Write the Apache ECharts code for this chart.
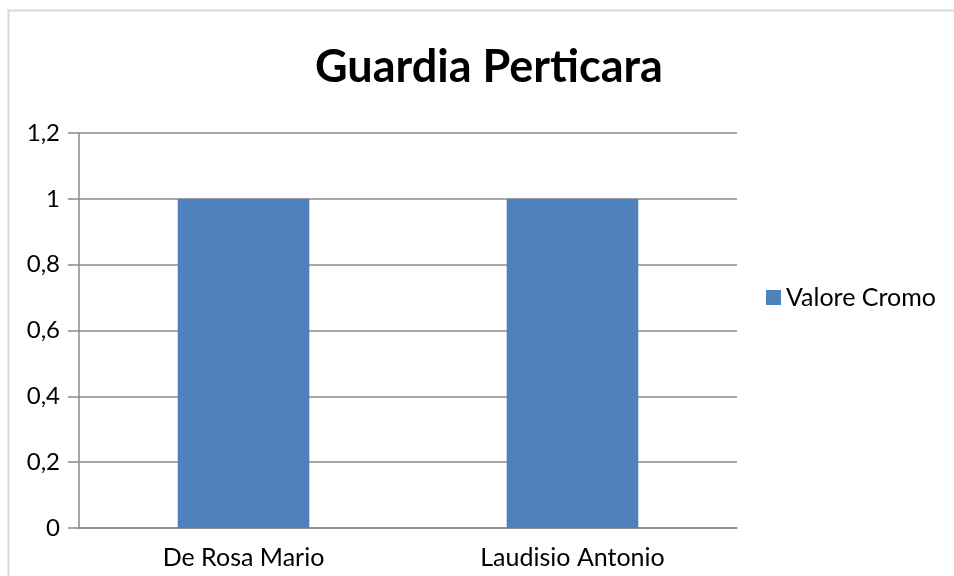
<!DOCTYPE html>
<html>
<head>
<meta charset="utf-8">
<script src="https://cdn.jsdelivr.net/npm/echarts@6/dist/echarts.min.js"></script>
<style>
  html, body { margin: 0; padding: 0; background: #fff; }
  #main { width: 954px; height: 576px; }
</style>
</head>
<body>
<div id="main"></div>
<script>
// dati del grafico
var categories = ['De Rosa Mario', 'Laudisio Antonio']
var seriesName = 'Valore Cromo'
var values = [1, 1]

var chart = echarts.init(document.getElementById('main'))
var lineColor = '#8a8a8a'
var font = 'Lato'

chart.setOption({
  animation: false,
  // cornice esterna del grafico
  graphic: [{
    type: 'rect',
    shape: { x: 8.5, y: 10.5, width: 960, height: 600 },
    style: { fill: 'none', stroke: '#d9d9d9', lineWidth: 2 },
    silent: true
  }],
  title: {
    text: 'Guardia Perticara',
    left: 484,
    textAlign: 'center',
    top: 40,
    textStyle: { fontFamily: font, fontWeight: 'bold', fontSize: 45, color: '#000' }
  },
  legend: {
    data: [seriesName],
    left: 761,
    top: 280,
    itemWidth: 15,
    itemHeight: 15,
    itemGap: 8,
    icon: 'rect',
    textStyle: { fontFamily: font, fontSize: 25, color: '#000' }
  },
  grid: { left: 79, right: 217, top: 133, bottom: 48 },
  xAxis: {
    type: 'category',
    data: categories,
    axisLine: { lineStyle: { color: lineColor, width: 1.5 } },
    axisTick: { length: 12, lineStyle: { color: lineColor, width: 1.5 } },
    axisLabel: { fontFamily: font, fontSize: 25, color: '#000', margin: 17 }
  },
  yAxis: {
    type: 'value',
    min: 0,
    max: 1.2,
    interval: 0.2,
    axisLine: { show: true, lineStyle: { color: lineColor, width: 1.5 } },
    axisTick: { show: true, length: 11, lineStyle: { color: lineColor, width: 1.5 } },
    splitLine: { lineStyle: { color: lineColor, width: 1.5 } },
    axisLabel: {
      fontFamily: font, fontSize: 24, color: '#000', margin: 19,
      formatter: function(v) { return String(Math.round(v * 10) / 10).replace('.', ',') }
    }
  },
  series: [{
    name: seriesName,
    type: 'bar',
    barWidth: '40%',
    itemStyle: { color: '#4f81bd' },
    data: values
  }]
})
</script>
</body>
</html>
